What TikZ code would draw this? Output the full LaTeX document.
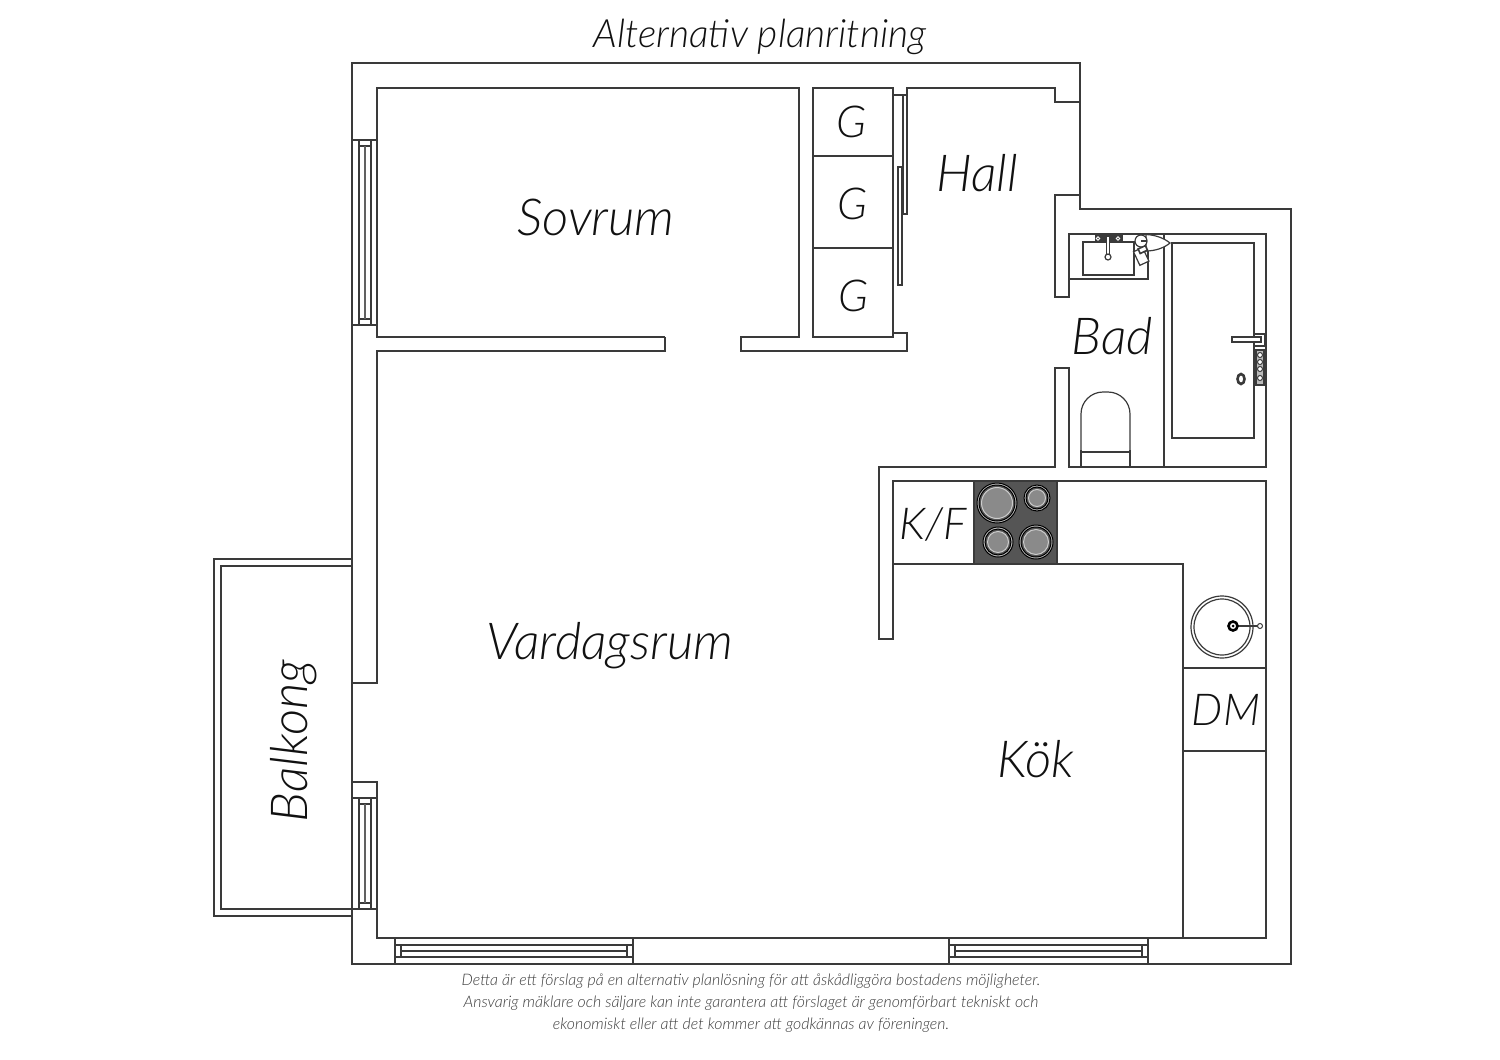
\documentclass[tikz,border=0pt]{standalone}
\usepackage{fontspec}
\setmainfont{Lato Light}[ItalicFont={Lato Light Italic}]
\usetikzlibrary{calc}
\definecolor{myline}{HTML}{3A3A3A}
\definecolor{myhob}{HTML}{555555}
\definecolor{myplate}{HTML}{8A8A8A}
\definecolor{mytext}{HTML}{111111}

\begin{document}
\begin{tikzpicture}[x=0.5pt,y=-0.5pt,line join=miter,
  wall/.style={draw=myline,line width=0.85pt},
  thin part/.style={draw=myline,line width=0.6pt},
  room label/.style={font=\fontsize{25.5}{30}\selectfont\itshape,text=mytext,inner sep=0pt},
  small label/.style={font=\fontsize{22}{26}\selectfont\itshape,text=mytext,inner sep=0pt},
  note line/.style={font=\fontsize{7.95}{10}\selectfont\itshape,text=myline,inner sep=0pt}]

\useasboundingbox (0,0) rectangle (1500,1060);

% outer walls
\draw[wall] (352,63) -- (1080,63) -- (1080,209) -- (1291,209) -- (1291,964) -- (352,964) -- cycle;

% balcony
\draw[wall] (352,559) -- (214,559) -- (214,916) -- (352,916);
\draw[wall] (352,566) -- (221,566) -- (221,909) -- (352,909);

% inner walls
\draw[wall] (665,337) -- (377,337) -- (377,88) -- (799,88) -- (799,337) -- (741,337) -- (741,351) -- (907,351) -- (907,333) -- (893,333);
\draw[wall] (665,337) -- (665,351) -- (377,351) -- (377,683) -- (352,683);
\draw[wall] (352,782) -- (377,782) -- (377,938) -- (1266,938) -- (1266,481) -- (893,481) -- (893,639) -- (879,639) -- (879,467) -- (1055,467) -- (1055,368) -- (1069,368) -- (1069,467) -- (1266,467) -- (1266,234) -- (1069,234) -- (1069,297) -- (1055,297) -- (1055,195) -- (1080,195);
\draw[wall] (893,95) -- (907,95) -- (907,88) -- (1055,88) -- (1055,102) -- (1080,102);

% wardrobes
\draw[wall] (813,88) rectangle (893,337);
\draw[wall] (813,156) -- (893,156) (813,248) -- (893,248);
\draw[thin part] (903,95) rectangle (907,214);
\draw[thin part] (898,167) rectangle (902,285);

% windows left
\foreach \ya/\yb in {140/325,798/909}{
  \draw[thin part] (352,\ya) -- (377,\ya) (352,\yb) -- (377,\yb);
  \draw[thin part] (359,\ya) -- (359,\yb) (371,\ya) -- (371,\yb);
  \draw[thin part] (359,\ya+6) -- (371,\ya+6) (359,\yb-6) -- (371,\yb-6);
  \draw[wall,draw=myline!80] (365,\ya+6) -- (365,\yb-6);
}

% windows bottom
\foreach \xa/\xb in {395/633,949/1148}{
  \draw[thin part] (\xa,938) -- (\xa,964) (\xb,938) -- (\xb,964);
  \draw[thin part] (\xa,945) -- (\xb,945) (\xa,957) -- (\xb,957);
  \draw[thin part] (\xa+6,945) -- (\xa+6,957) (\xb-6,945) -- (\xb-6,957);
  \draw[wall] (\xa+6,951) -- (\xb-6,951);
}

% bathroom
\draw[thin part] (1164,234) -- (1164,467);
\draw[thin part] (1069,279) -- (1148,279) -- (1148,234);
\draw[thin part] (1083,242) rectangle (1134,275);
\draw[fill=myline,draw=myline] (1095,235) rectangle (1122,242);
\foreach \x in {1098,1118}
  \draw[draw=white,line width=0.4pt] (\x,238.5) circle (1.8);
\draw[thin part,fill=white] (1106.5,236) rectangle (1109.5,255);
\draw[thin part,fill=white] (1108,257) circle (3);
\draw[thin part,fill=white] (1146,234.5) .. controls (1157,235) and (1165,239) .. (1170,243) .. controls (1164,248) and (1155,251) .. (1146,251) -- cycle;
\draw[thin part,fill=white,rotate around={25:(1141,256)}] (1136,249) rectangle (1146,264);
\draw[line width=0.8pt,draw=myline,fill=white,rotate around={25:(1143,250)}] (1139,247) rectangle (1147,252);
\draw[thin part,fill=white] (1141,241) circle (6);
\draw[line width=0.8pt,draw=myline] (1141,241) -- (1147,241);

% bath tub
\draw[draw=myline,line width=1.4pt] (1172,243) rectangle (1254,438);
\draw[thin part,fill=white] (1254,334) rectangle (1265,346);
\draw[thin part,fill=white] (1232,337) rectangle (1261,342);
\draw[thin part,fill=myline!35] (1256,350) rectangle (1264,385);
\foreach \y in {355,362,369,378}
  \draw[draw=myline,fill=white,line width=0.5pt] (1260,\y) circle (2.5);
\draw[draw=myline,line width=1.3pt] (1241,379) ellipse (3.5 and 5);

% toilet
\draw[thin part,rounded corners=11pt] (1081,467) -- (1081,392) -- (1130,392) -- (1130,467);
\draw[thin part] (1081,452) -- (1130,452);
\draw[thin part] (1081,450) -- (1081,467) (1130,450) -- (1130,467);

% kitchen
\draw[wall] (893,564) -- (1183,564) -- (1183,938);
\draw[wall] (1183,668) -- (1266,668) (1183,751) -- (1266,751);
\draw[wall,fill=myhob] (974,481) rectangle (1057,564);
\foreach \cx/\cy/\r in {997/503/20,1037/498/13,998/542/15,1036/542/17}{
  \draw[fill=black!25,draw=black,line width=0.5pt] (\cx,\cy) circle (\r);
  \draw[fill=myhob,draw=black,line width=0.5pt] (\cx,\cy) circle (\r-2);
  \draw[fill=myplate,draw=black!20,line width=0.5pt] (\cx,\cy) circle (\r-4.5);
}

% sink
\draw[thin part] (1222,627) circle (31);
\draw[thin part] (1222,627) circle (28);
\draw[draw=myline,line width=0.9pt] (1234,626) -- (1258,626);
\draw[draw=black,line width=1.3pt,fill=white] (1233,626) circle (4.5);
\fill[black] (1233,626) circle (1.5);
\draw[draw=myline,fill=white,line width=0.5pt] (1260,626) circle (2.5);

% labels
\node[font=\fontsize{19.5}{23}\selectfont\itshape,text=mytext,inner sep=0pt] (title) at (760,37) {Alternativ planritning};
\node[room label] (sovrum) at (596,217) {Sovrum};
\node[room label] (hall) at (977,173) {Hall};
\node[room label] (bad) at (1112,336) {Bad};
\node[room label] (vardagsrum) at (610,646) {Vardagsrum};
\node[room label] (kok) at (1036,759) {Kök};
\node[small label] (kf) at (933,525) {K/F};
\node[small label] (dm) at (1226,710) {DM};
\node[room label] (balkong) at (294,741) [rotate=90] {Balkong};
\foreach \x/\y [count=\c] in {852/122,853/204,854/296}
  \node[small label] (g\c) at (\x,\y) {G};

% note under the plan
\node[note line] (note1) at (751,981) {Detta är ett förslag på en alternativ planlösning för att åskådliggöra bostadens möjligheter.};
\node[note line] (note2) at (751,1003) {Ansvarig mäklare och säljare kan inte garantera att förslaget är genomförbart tekniskt och};
\node[note line] (note3) at (751,1025) {ekonomiskt eller att det kommer att godkännas av föreningen.};
\end{tikzpicture}
\end{document}
